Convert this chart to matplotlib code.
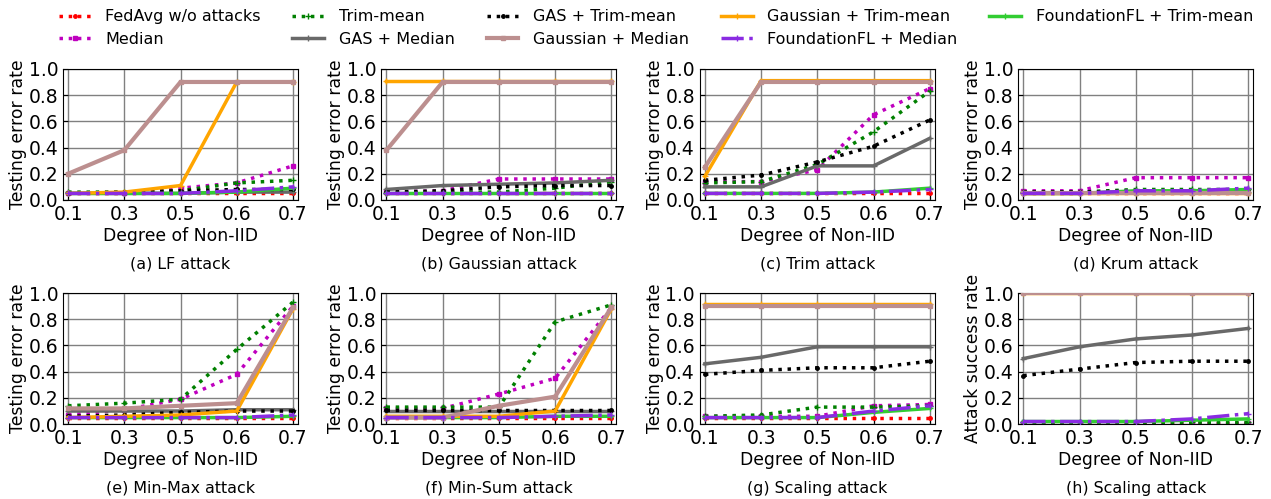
import numpy as np
import matplotlib
matplotlib.use("Agg")
import matplotlib.pyplot as plt

noniid = ["0.1", "0.3", "0.5", "0.6", "0.7"]

methods = [
    "FedAvg w/o attacks",
    "Median",
    "Trim-mean",
    "GAS + Median",
    "GAS + Trim-mean",
    "Gaussian + Median",
    "Gaussian + Trim-mean",
    "FoundationFL + Median",
    "FoundationFL + Trim-mean",
]

# one row per method, same order as `methods`
lf_attack = [
    [0.05, 0.05, 0.05, 0.05, 0.05],
    [0.05, 0.05, 0.09, 0.13, 0.26],
    [0.06, 0.06, 0.07, 0.13, 0.15],
    [0.05, 0.05, 0.05, 0.06, 0.06],
    [0.05, 0.06, 0.07, 0.08, 0.08],
    [0.20, 0.38, 0.90, 0.90, 0.90],
    [0.05, 0.06, 0.11, 0.90, 0.90],
    [0.05, 0.05, 0.05, 0.07, 0.10],
    [0.05, 0.05, 0.05, 0.06, 0.09],
]
gaussian_attack = [
    [0.05, 0.05, 0.05, 0.05, 0.05],
    [0.06, 0.07, 0.16, 0.16, 0.16],
    [0.05, 0.06, 0.06, 0.09, 0.14],
    [0.08, 0.11, 0.12, 0.13, 0.15],
    [0.06, 0.07, 0.10, 0.11, 0.11],
    [0.38, 0.90, 0.90, 0.90, 0.90],
    [0.91, 0.91, 0.91, 0.91, 0.91],
    [0.05, 0.05, 0.05, 0.05, 0.05],
    [0.05, 0.05, 0.05, 0.05, 0.05],
]
trim_attack = [
    [0.05, 0.05, 0.05, 0.05, 0.05],
    [0.14, 0.14, 0.23, 0.65, 0.85],
    [0.13, 0.14, 0.27, 0.52, 0.83],
    [0.10, 0.10, 0.26, 0.26, 0.47],
    [0.15, 0.19, 0.29, 0.41, 0.61],
    [0.25, 0.90, 0.90, 0.90, 0.90],
    [0.18, 0.91, 0.91, 0.91, 0.91],
    [0.05, 0.05, 0.05, 0.06, 0.08],
    [0.05, 0.05, 0.05, 0.06, 0.09],
]
krum_attack = [
    [0.05, 0.05, 0.05, 0.05, 0.05],
    [0.07, 0.07, 0.17, 0.17, 0.17],
    [0.06, 0.06, 0.08, 0.08, 0.08],
    [0.05, 0.05, 0.06, 0.06, 0.06],
    [0.06, 0.06, 0.07, 0.07, 0.07],
    [0.05, 0.05, 0.05, 0.05, 0.05],
    [0.05, 0.05, 0.05, 0.05, 0.05],
    [0.05, 0.05, 0.07, 0.07, 0.09],
    [0.05, 0.05, 0.07, 0.07, 0.08],
]
minmax_attack = [
    [0.05, 0.05, 0.05, 0.05, 0.05],
    [0.07, 0.11, 0.19, 0.38, 0.90],
    [0.14, 0.16, 0.19, 0.57, 0.93],
    [0.10, 0.10, 0.10, 0.11, 0.11],
    [0.06, 0.07, 0.09, 0.10, 0.10],
    [0.12, 0.12, 0.14, 0.16, 0.89],
    [0.05, 0.06, 0.07, 0.10, 0.88],
    [0.05, 0.05, 0.05, 0.05, 0.07],
    [0.05, 0.05, 0.05, 0.05, 0.06],
]
minsum_attack = [
    [0.05, 0.05, 0.05, 0.05, 0.05],
    [0.12, 0.12, 0.23, 0.35, 0.89],
    [0.13, 0.13, 0.13, 0.78, 0.91],
    [0.10, 0.10, 0.10, 0.10, 0.10],
    [0.11, 0.11, 0.11, 0.11, 0.11],
    [0.05, 0.05, 0.14, 0.21, 0.89],
    [0.06, 0.06, 0.06, 0.10, 0.88],
    [0.05, 0.05, 0.05, 0.06, 0.07],
    [0.05, 0.05, 0.05, 0.06, 0.06],
]
scaling_error = [
    [0.05, 0.05, 0.05, 0.05, 0.05],
    [0.06, 0.06, 0.06, 0.14, 0.15],
    [0.06, 0.07, 0.13, 0.13, 0.14],
    [0.46, 0.51, 0.59, 0.59, 0.59],
    [0.38, 0.41, 0.43, 0.43, 0.48],
    [0.905, 0.905, 0.905, 0.905, 0.905],
    [0.915, 0.915, 0.915, 0.915, 0.915],
    [0.05, 0.05, 0.05, 0.10, 0.14],
    [0.05, 0.05, 0.05, 0.09, 0.12],
]
scaling_success = [
    [0.01, 0.01, 0.01, 0.01, 0.01],
    [0.01, 0.01, 0.01, 0.01, 0.01],
    [0.02, 0.02, 0.02, 0.02, 0.02],
    [0.50, 0.59, 0.65, 0.68, 0.73],
    [0.37, 0.42, 0.47, 0.48, 0.48],
    [1.00, 1.00, 1.00, 1.00, 1.00],
    [1.00, 1.00, 1.00, 1.00, 1.00],
    [0.02, 0.02, 0.02, 0.04, 0.08],
    [0.02, 0.02, 0.02, 0.03, 0.04],
]

panels = [
    (lf_attack, "(a) LF attack", "Testing error rate"),
    (gaussian_attack, "(b) Gaussian attack", "Testing error rate"),
    (trim_attack, "(c) Trim attack", "Testing error rate"),
    (krum_attack, "(d) Krum attack", "Testing error rate"),
    (minmax_attack, "(e) Min-Max attack", "Testing error rate"),
    (minsum_attack, "(f) Min-Sum attack", "Testing error rate"),
    (scaling_error, "(g) Scaling attack", "Testing error rate"),
    (scaling_success, "(h) Scaling attack", "Attack success rate"),
]

styles = [
    dict(color="red", linestyle=":", marker=".", lw=2.5, ms=5),
    dict(color="m", linestyle=":", marker="s", lw=2.5, ms=3.5),
    dict(color="green", linestyle=":", marker="+", lw=2.5, ms=5),
    dict(color="dimgray", linestyle="-", marker="+", lw=2.5, ms=5),
    dict(color="black", linestyle=":", marker=".", lw=2.5, ms=5),
    dict(color="rosybrown", linestyle="-", marker="s", lw=3, ms=3, zorder=2.6),
    dict(color="orange", linestyle="-", marker="+", lw=2.5, ms=4, zorder=2.5),
    dict(color="blueviolet", linestyle="-.", marker="+", lw=2.5, ms=5, zorder=2.7),
    dict(color="limegreen", linestyle="-", marker="+", lw=2.5, ms=4),
]

fig, axes = plt.subplots(2, 4, figsize=(12.71, 4.99), dpi=100)
fig.subplots_adjust(left=0.0496, right=0.986, top=0.862, bottom=0.150,
                    wspace=0.355, hspace=0.71)

x = np.arange(len(noniid))
for ax, (data, sub, ylab) in zip(axes.flat, panels):
    for name, vals, st in zip(methods, data, styles):
        ax.plot(x, vals, label=name, **st)
    ax.set_xlim(-0.09, 4.09)
    ax.set_ylim(0, 1)
    ax.set_xticks(x)
    ax.set_xticklabels(noniid)
    ax.set_yticks(np.arange(0, 1.01, 0.2))
    ax.tick_params(labelsize=13.5, direction="in")
    ax.grid(True, color="gray", lw=1)
    ax.set_axisbelow(True)
    ax.set_xlabel("Degree of Non-IID", fontsize=12.4, labelpad=2)
    ax.set_ylabel(ylab, fontsize=12.4, labelpad=1)
    ax.text(0.5, -0.49, sub, transform=ax.transAxes, ha="center",
            va="center", fontsize=11.4)

handles, labels = axes[0, 0].get_legend_handles_labels()
fig.legend(handles, labels, loc="upper center", bbox_to_anchor=(0.516, 1.01),
           ncol=5, frameon=False, fontsize=11.5, columnspacing=2.0,
           handlelength=2.0, handletextpad=0.9, labelspacing=0.45)

fig.savefig("out.png", dpi=100)
